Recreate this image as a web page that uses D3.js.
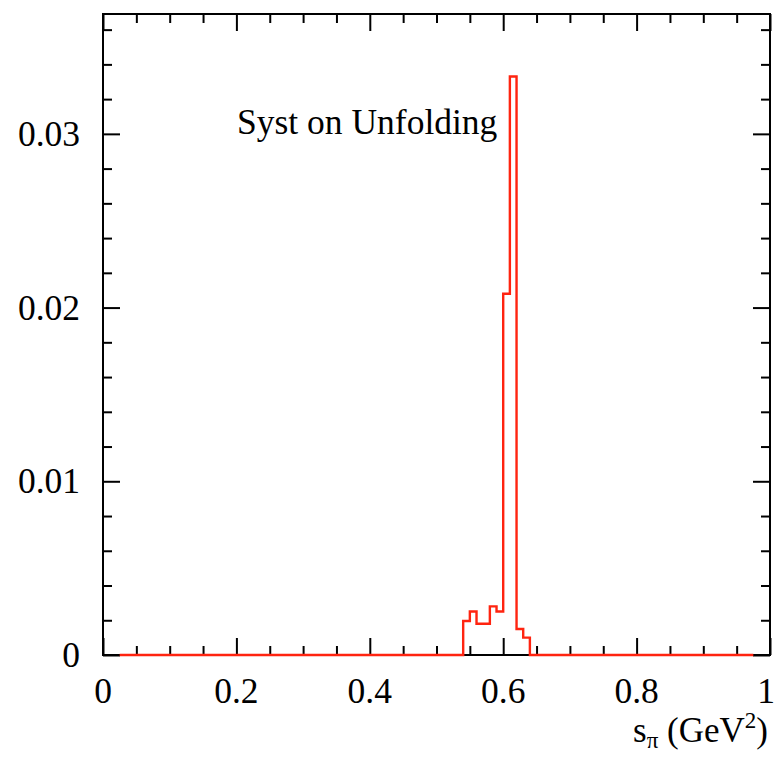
<!DOCTYPE html>
<html><head><meta charset="utf-8">
<script src="https://cdn.jsdelivr.net/npm/d3@7"></script>
<style>body{margin:0;background:#fff}text{font-family:"Liberation Serif","Times New Roman",serif;fill:#000}</style>
</head><body><svg id="c" width="778" height="757"></svg>
<script>
// Data: histogram bin edges and contents
const binEdges = [0.025, 0.54, 0.55, 0.56, 0.57, 0.58, 0.59, 0.60, 0.61, 0.62, 0.63, 0.64, 0.975];
const binValues = [0, 0.00196, 0.0025, 0.0018, 0.0018, 0.0028, 0.0025, 0.0208, 0.0333, 0.0015, 0.0010, 0];
const xMajorTicks = [0, 0.2, 0.4, 0.6, 0.8, 1];
const xTickLabels = ["0", "0.2", "0.4", "0.6", "0.8", "1"];
const yMajorTicks = [0, 0.01, 0.02, 0.03];
const yTickLabels = ["0", "0.01", "0.02", "0.03"];
const titleText = "Syst on Unfolding";

const svg = d3.select("#c");
const L = 103, R = 770, T = 14, B = 655;
const x = d3.scaleLinear().domain([0, 1]).range([L, R]);
const y = d3.scaleLinear().domain([0, 0.0369]).range([B, T]);

const xMinor = d3.range(0, 1.0001, 0.05).filter(v => !xMajorTicks.some(m => Math.abs(m - v) < 1e-6));
const yMinor = d3.range(0, 0.0369, 0.002).filter(v => !yMajorTicks.some(m => Math.abs(m - v) < 1e-7));

function styleAxis(g) {
  g.select(".domain").remove();
  g.selectAll("line").attr("stroke", "#000").attr("stroke-width", 2);
}
// bottom
svg.append("g").attr("transform", `translate(0,${B})`)
  .call(d3.axisTop(x).tickValues(xMajorTicks).tickSize(17).tickFormat(""))
  .call(styleAxis);
svg.append("g").attr("transform", `translate(0,${B})`)
  .call(d3.axisTop(x).tickValues(xMinor).tickSize(9).tickFormat(""))
  .call(styleAxis);
// top
svg.append("g").attr("transform", `translate(0,${T})`)
  .call(d3.axisBottom(x).tickValues(xMajorTicks).tickSize(17).tickFormat(""))
  .call(styleAxis);
svg.append("g").attr("transform", `translate(0,${T})`)
  .call(d3.axisBottom(x).tickValues(xMinor).tickSize(9).tickFormat(""))
  .call(styleAxis);
// left
svg.append("g").attr("transform", `translate(${L},0)`)
  .call(d3.axisRight(y).tickValues(yMajorTicks).tickSize(17).tickFormat(""))
  .call(styleAxis);
svg.append("g").attr("transform", `translate(${L},0)`)
  .call(d3.axisRight(y).tickValues(yMinor).tickSize(9).tickFormat(""))
  .call(styleAxis);
// right
svg.append("g").attr("transform", `translate(${R},0)`)
  .call(d3.axisLeft(y).tickValues(yMajorTicks).tickSize(17).tickFormat(""))
  .call(styleAxis);
svg.append("g").attr("transform", `translate(${R},0)`)
  .call(d3.axisLeft(y).tickValues(yMinor).tickSize(9).tickFormat(""))
  .call(styleAxis);

// frame
svg.append("rect").attr("x", L).attr("y", T).attr("width", R - L).attr("height", B - T)
  .attr("fill", "none").attr("stroke", "#000").attr("stroke-width", 2);

// tick labels
svg.append("g").selectAll("text").data(xMajorTicks).join("text")
  .attr("x", d => x(d) - (d === 1 ? 4 : 0)).attr("y", 703).attr("text-anchor", "middle")
  .attr("font-size", 35.5).text((d, i) => xTickLabels[i]);
svg.append("g").selectAll("text").data(yMajorTicks).join("text")
  .attr("x", 80).attr("y", d => y(d) + 12).attr("text-anchor", "end")
  .attr("font-size", 35.5).text((d, i) => yTickLabels[i]);

// histogram
const pts = binValues.map((v, i) => [binEdges[i], v]);
pts.push([binEdges[binEdges.length - 1], binValues[binValues.length - 1]]);
const line = d3.line().x(d => x(d[0])).y(d => y(d[1])).curve(d3.curveStepAfter);
svg.append("path").attr("d", line(pts)).attr("fill", "none")
  .attr("stroke", "#ff2410").attr("stroke-width", 2.4);

// title
svg.append("text").attr("x", 237).attr("y", 134).attr("font-size", 35.5).text(titleText);

// x axis title
const xt = svg.append("text").attr("x", 768).attr("y", 742).attr("text-anchor", "end").attr("font-size", 35);
xt.append("tspan").text("s");
xt.append("tspan").attr("dy", 6).attr("font-size", 23).text("π");
xt.append("tspan").attr("dy", -6).text(" (GeV");
xt.append("tspan").attr("dy", -14).attr("font-size", 23).text("2");
xt.append("tspan").attr("dy", 14).text(")");
</script></body></html>
